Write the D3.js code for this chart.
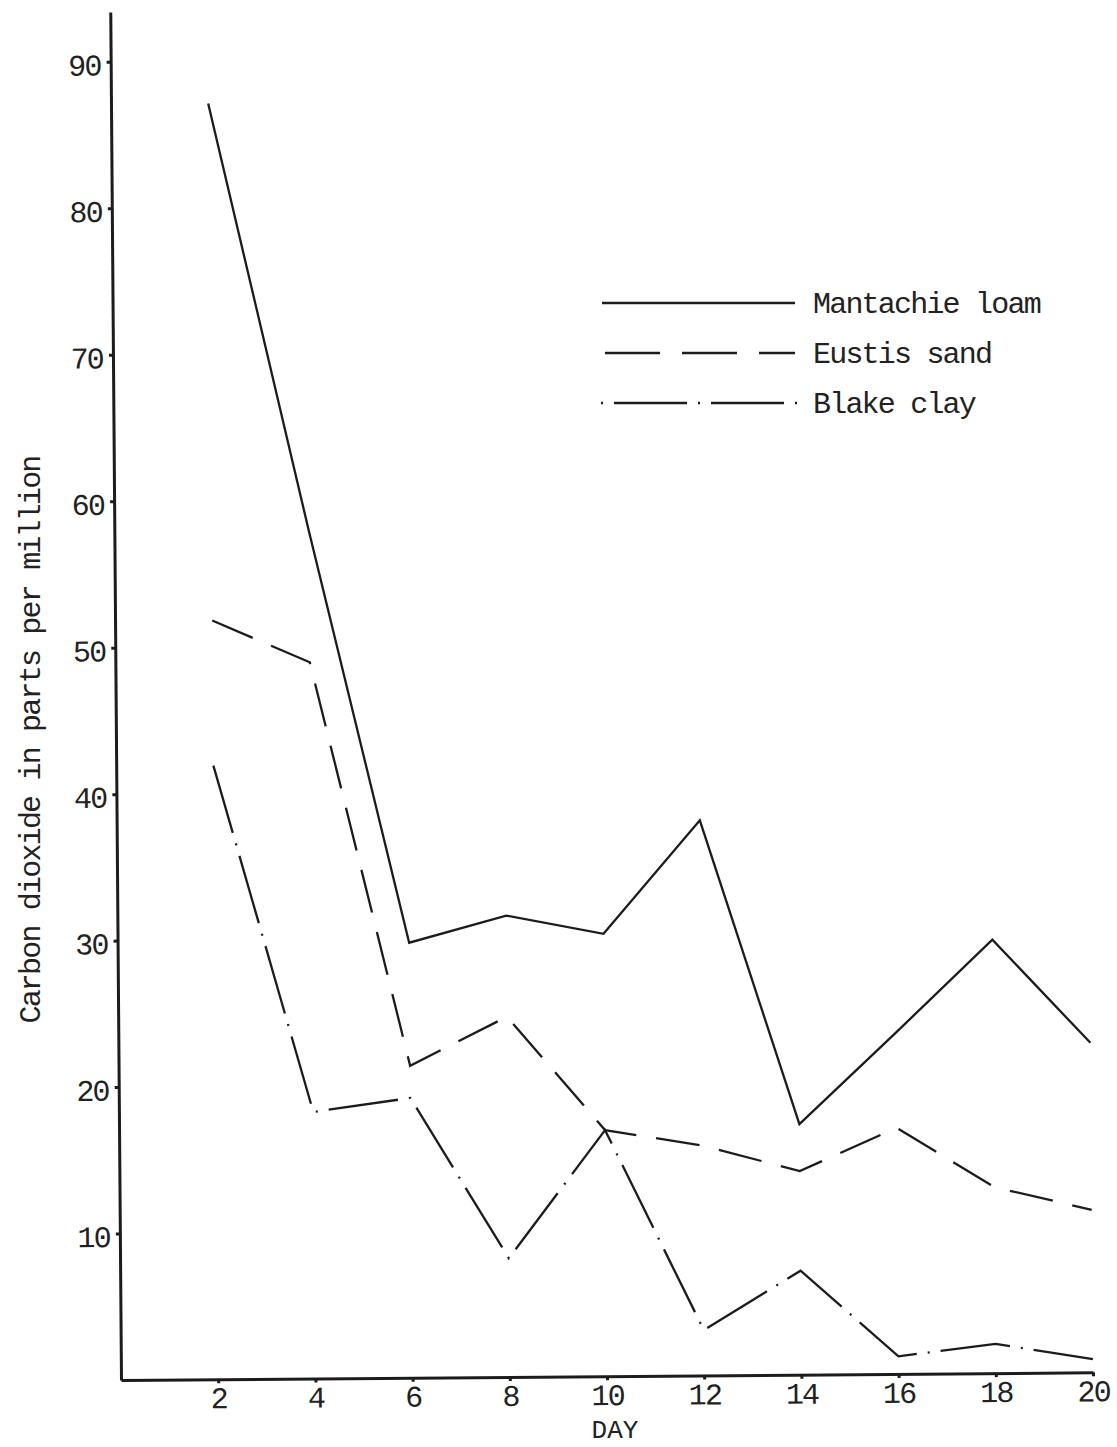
<!DOCTYPE html>
<html><head><meta charset="utf-8">
<script src="https://cdn.jsdelivr.net/npm/d3@7"></script>
<style>
html,body{margin:0;padding:0;background:#fff;}
svg{display:block;background:#fff;}
text{font-family:"Liberation Mono","Courier New",monospace;fill:#222;}
</style></head><body>
<svg id="chart" width="1117" height="1447"></svg>
<script>
const days = [2, 4, 6, 8, 10, 12, 14, 16, 18, 20];
const mantachieLoam = [87.1, 57.9, 29.7, 31.5, 30.2, 37.9, 17.1, 23.3, 29.6, 22.5];
const eustisSand    = [51.8, 48.9, 21.3, 24.6, 16.8, 15.7, 13.9, 16.8, 12.7, 11.1];
const blakeClay     = [41.9, 18.2, 19.1, 8.1, 16.8, 3.1, 7.1, 1.2, 2.0, 0.9];
const seriesNames = ["Mantachie loam", "Eustis sand", "Blake clay"];
const yTicks = [10, 20, 30, 40, 50, 60, 70, 80, 90];
const xTicks = [2, 4, 6, 8, 10, 12, 14, 16, 18, 20];
const yLabel = "Carbon dioxide in parts per million";
const xLabel = "DAY";

const ink = "#1c1c1c";
const fontSize = 30, ls = -1.8;
const svg = d3.select("#chart");

const x = d3.scaleLinear().domain([0, 20]).range([121, 1093]);
const y = d3.scaleLinear().domain([0, 93.4]).range([1380, 12]);

// whole scanned sheet is very slightly rotated
const g = svg.append("g").attr("transform", "rotate(-0.45,121,1380)");

// axes
const yAxis = d3.axisLeft(y).tickValues(yTicks).tickSize(4).tickSizeOuter(0).tickFormat(d3.format("d"));
const xAxis = d3.axisBottom(x).tickValues(xTicks).tickSize(4).tickSizeOuter(0).tickFormat(d3.format("d"));

const gy = g.append("g").attr("transform", `translate(${x(0)},0)`).call(yAxis);
const gx = g.append("g").attr("transform", `translate(0,${y(0)})`).call(xAxis);

[gy, gx].forEach(a => {
  a.select(".domain").attr("stroke", ink).attr("stroke-width", 3);
  a.selectAll(".tick line").attr("stroke", ink).attr("stroke-width", 3);
  a.selectAll(".tick text")
    .attr("fill", "#222")
    .style("font-family", '"Liberation Mono","Courier New",monospace')
    .style("font-size", fontSize + "px")
    .style("letter-spacing", ls + "px");
});
gy.selectAll(".tick text").attr("x", -10).attr("dy", "13px");
gx.selectAll(".tick text").attr("y", 29).attr("dy", "0");

// series
const series = [
  {name: seriesNames[0], values: mantachieLoam, dash: null},
  {name: seriesNames[1], values: eustisSand, dash: "44 20"},
  {name: seriesNames[2], values: blakeClay, dash: "70 11 2 11"}
];
const line = d3.line().x(d => x(d[0])).y(d => y(d[1]));
series.forEach(s => {
  g.append("path")
    .datum(days.map((d, i) => [d, s.values[i]]))
    .attr("d", line)
    .attr("fill", "none")
    .attr("stroke", ink)
    .attr("stroke-width", 2.3)
    .attr("stroke-linejoin", "miter")
    .attr("stroke-dasharray", s.dash);
});

// y label
svg.append("text")
  .attr("transform", "translate(40,740) rotate(-90)")
  .attr("text-anchor", "middle")
  .style("font-size", fontSize + "px")
  .style("letter-spacing", ls + "px")
  .text(yLabel);

// x label
svg.append("text")
  .attr("x", 615).attr("y", 1438)
  .attr("text-anchor", "middle")
  .style("font-size", "26px")
  .style("letter-spacing", "0px")
  .text(xLabel);

// legend
const legend = [
  {name: seriesNames[0], ly: 303, x1: 602, x2: 795, dash: null},
  {name: seriesNames[1], ly: 353, x1: 605, x2: 795, dash: "55 22"},
  {name: seriesNames[2], ly: 403, x1: 601, x2: 797, dash: "2 11 73 11"}
];
legend.forEach(l => {
  svg.append("line")
    .attr("x1", l.x1).attr("x2", l.x2).attr("y1", l.ly).attr("y2", l.ly)
    .attr("stroke", ink).attr("stroke-width", 2.3)
    .attr("stroke-dasharray", l.dash);
  svg.append("text")
    .attr("x", 813).attr("y", l.ly + 10)
    .style("font-size", fontSize + "px")
    .style("letter-spacing", ls + "px")
    .text(l.name);
});
</script>
</body></html>
